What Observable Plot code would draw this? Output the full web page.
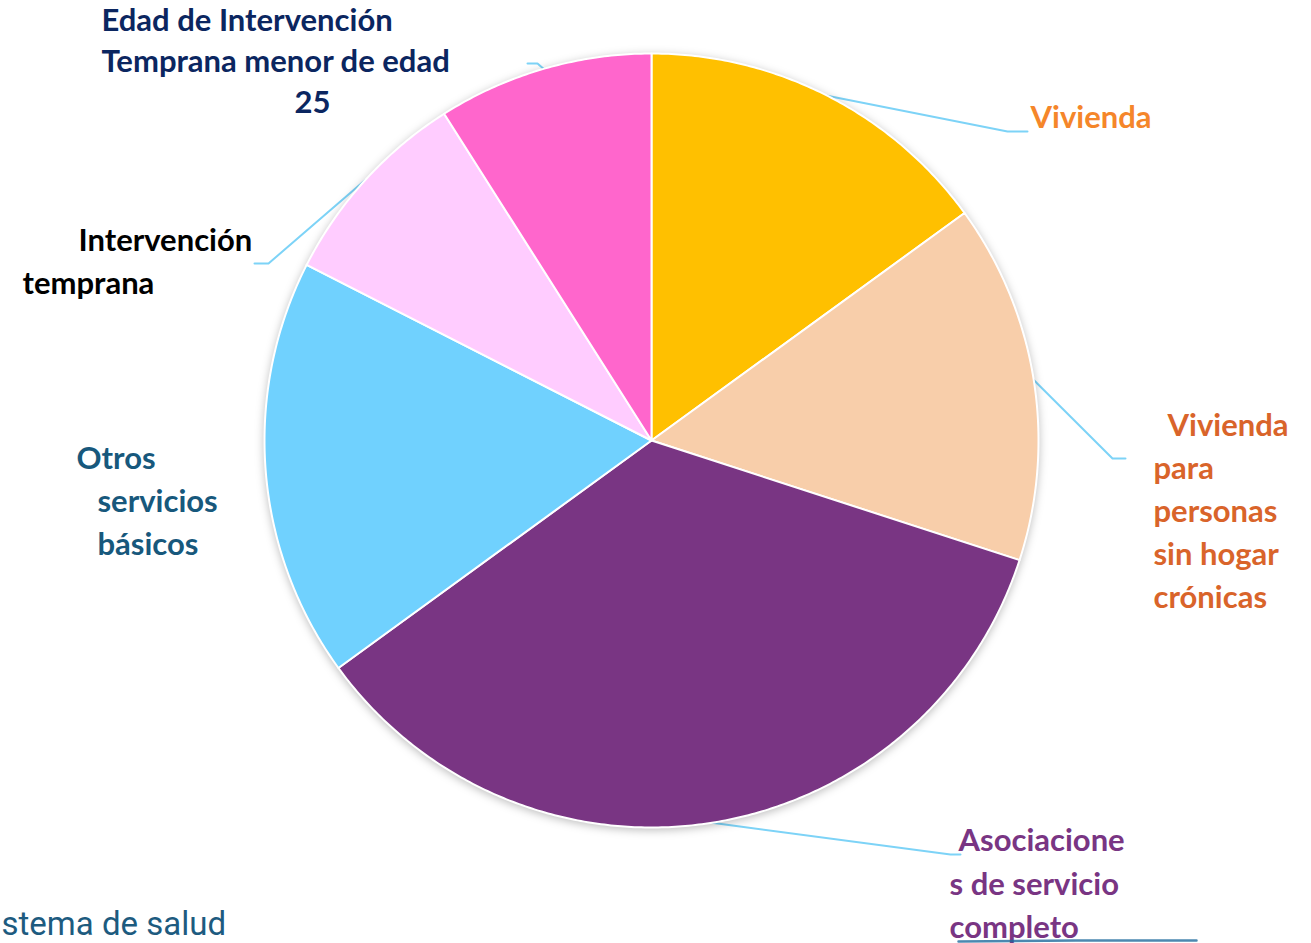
<!DOCTYPE html>
<html>
<head>
<meta charset="utf-8">
<script src="https://cdn.jsdelivr.net/npm/d3@7"></script>
<script src="https://cdn.jsdelivr.net/npm/@observablehq/plot@0.6"></script>
<style>
  html, body { margin: 0; padding: 0; background: #ffffff; overflow: hidden; }
  #chart { width: 1311px; height: 943px; }
</style>
</head>
<body>
<div id="chart"></div>
<script>
// ---- Data ----
const categories = [
  "Vivienda",
  "Vivienda para personas sin hogar crónicas",
  "Asociaciones de servicio completo",
  "Otros servicios básicos",
  "Intervención temprana",
  "Edad de Intervención Temprana menor de edad 25"
];
const shares = [15, 15, 35, 17.5, 8.5, 9];
const sliceColors = ["#FFC000", "#F8CEAA", "#793583", "#70D1FE", "#FFCCFF", "#FF66CC"];
// label lines per category (text only)
const labelLines = [
  ["Vivienda"],
  ["Vivienda", "para", "personas", "sin hogar", "crónicas"],
  ["Asociacione", "s de servicio", "completo"],
  ["Otros", "servicios", "básicos"],
  ["Intervención", "temprana"],
  ["Edad de Intervención", "Temprana menor de edad", "25"]
];
const labelColors = ["#F5862A", "#D9642A", "#793583", "#17587C", "#000000", "#0B2660"];
const footnote = "stema de salud";

// ---- Layout (pixels) ----
const W = 1311, H = 943;
const cx = 651, cy = 440, R = 387;
// per label: left x of each line, center y of each line
const labelPos = [
  {xs: [1030], ys: [118]},
  {xs: [1167, 1153, 1153, 1153, 1153], ys: [426, 469, 512, 555, 598]},
  {xs: [958, 949, 949], ys: [841, 885, 928]},
  {xs: [76, 97, 97], ys: [459, 502, 545]},
  {xs: [78, 22], ys: [241, 284]},
  {xs: [101, 101, 294], ys: [21, 62, 103]}
];
// leader elbows: [elbow, end] in pixels
const leaderPts = [
  [[1007, 131], [1027, 131]],
  [[1112, 458], [1125, 458]],
  [[950, 854], [960, 854]],
  [[268, 263], [254, 263]],
  [[537, 63], [527, 63]]
];
const leaderIdx = [0, 1, 2, 4, 5];

const ux = px => (px - cx) / R;
const uy = py => (cy - py) / R;

// ---- Build geometry from data ----
const table = categories.map((c, i) => ({name: c, value: shares[i]}));
const arcs = d3.pie().sort(null).value(d => d.value)(table);

const slicePts = [];
arcs.forEach(a => {
  const name = a.data.name;
  slicePts.push({name, x: 0, y: 0});
  const n = Math.max(2, Math.ceil((a.endAngle - a.startAngle) / (Math.PI / 360)));
  for (let k = 0; k <= n; k++) {
    const t = a.startAngle + (a.endAngle - a.startAngle) * k / n;
    slicePts.push({name, x: Math.sin(t), y: Math.cos(t)});
  }
  slicePts.push({name, x: 0, y: 0});
});

const leaders = [];
leaderIdx.forEach((ci, j) => {
  const a = arcs[ci];
  const m = (a.startAngle + a.endAngle) / 2;
  const name = categories[ci];
  leaders.push({name, x: Math.sin(m), y: Math.cos(m)});
  leaderPts[j].forEach(p => leaders.push({name, x: ux(p[0]), y: uy(p[1])}));
});

const texts = [];
labelLines.forEach((lines, i) => {
  lines.forEach((t, k) => {
    texts.push({text: t, x: ux(labelPos[i].xs[k]), y: uy(labelPos[i].ys[k]), color: labelColors[i]});
  });
});

const plot = Plot.plot({
  width: W,
  height: H,
  margin: 0,
  x: {domain: [ux(0), ux(W)], range: [0, W], axis: null},
  y: {domain: [uy(0), uy(H)], range: [0, H], axis: null},
  color: {domain: categories, range: sliceColors, legend: false},
  style: {background: "#ffffff", overflow: "visible"},
  marks: [
    Plot.line(leaders, {x: "x", y: "y", z: "name", stroke: "#7DD3F7", strokeWidth: 2, curve: "linear"}),
    Plot.line(slicePts, {x: "x", y: "y", z: "name", fill: "name", stroke: "#ffffff", strokeWidth: 2, strokeLinejoin: "round", className: "slices"}),
    Plot.text(texts, {x: "x", y: "y", text: "text", fill: d => d.color, textAnchor: "start", fontSize: 31, fontWeight: 700, fontFamily: "Lato"}),
    Plot.text([footnote], {x: ux(1), y: uy(934), text: d => d, textAnchor: "start", lineAnchor: "bottom", fontSize: 33, fontFamily: "Roboto", fill: "#1D5B7F"}),
    Plot.line([{x: ux(958), y: uy(941)}, {x: ux(1075), y: uy(940)}, {x: ux(1196), y: uy(940)}], {x: "x", y: "y", stroke: "#1E6A9C", strokeWidth: 2.5, strokeOpacity: 0.8})
  ]
});
document.getElementById("chart").appendChild(plot);
const g = plot.querySelector("g.slices");
if (g) g.style.filter = "drop-shadow(0px 2px 4px rgba(0,0,0,0.25))";
</script>
</body>
</html>
